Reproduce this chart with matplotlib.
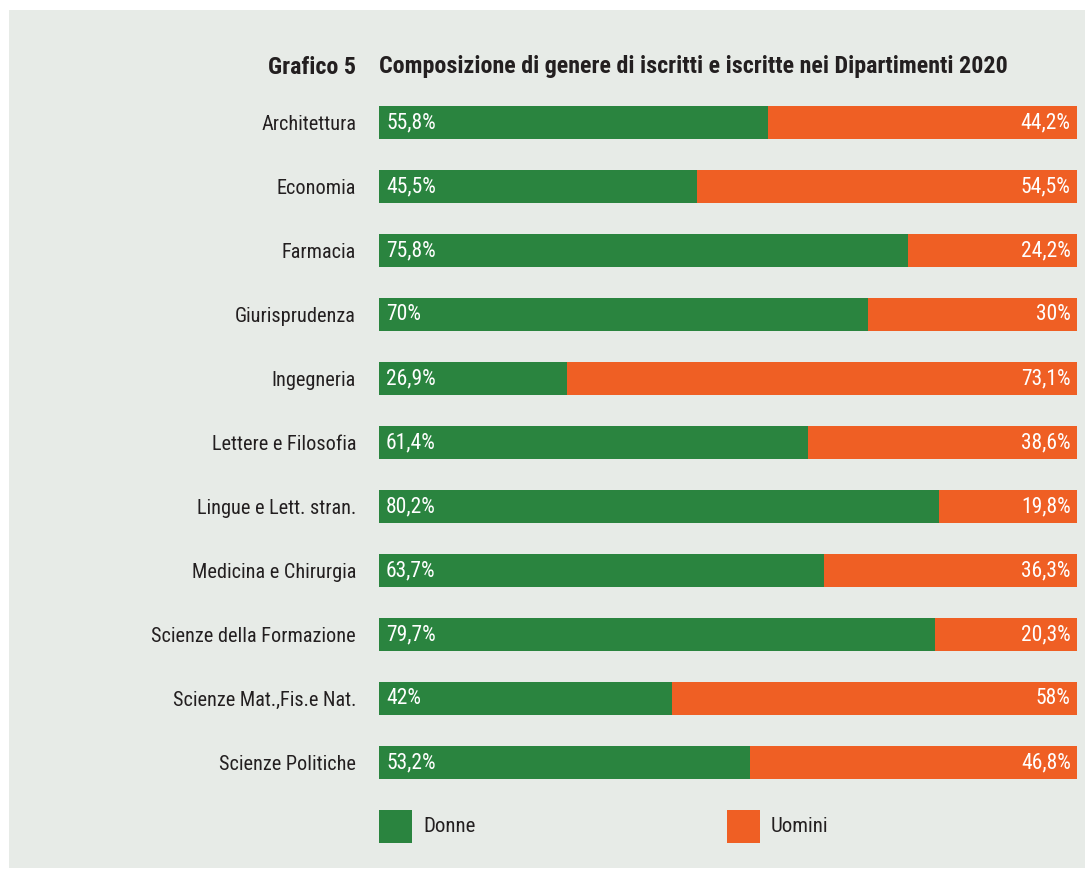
import matplotlib.pyplot as plt
from matplotlib.patches import Rectangle

# dati: quota di iscritte (Donne) e iscritti (Uomini) per dipartimento, in %
dipartimenti = ['Architettura', 'Economia', 'Farmacia', 'Giurisprudenza', 'Ingegneria',
                'Lettere e Filosofia', 'Lingue e Lett. stran.', 'Medicina e Chirurgia',
                'Scienze della Formazione', 'Scienze Mat.,Fis.e Nat.', 'Scienze Politiche']
donne = [55.8, 45.5, 75.8, 70, 26.9, 61.4, 80.2, 63.7, 79.7, 42, 53.2]
uomini = [44.2, 54.5, 24.2, 30, 73.1, 38.6, 19.8, 36.3, 20.3, 58, 46.8]

VERDE = '#2a843f'
ARANCIO = '#ef5f24'
SFONDO = '#e7ebe7'
TESTO = '#231f20'

plt.rcParams['font.family'] = ['Roboto Condensed', 'Archivo Narrow', 'DejaVu Sans']

W, H = 1085, 869
fig = plt.figure(figsize=(W / 100, H / 100), dpi=100)
fig.patch.set_facecolor('white')
# riquadro di sfondo
fig.patches.append(Rectangle((9 / W, 1 - 868 / H), (W - 9) / W, (868 - 10) / H,
                             transform=fig.transFigure, facecolor=SFONDO,
                             edgecolor='none', zorder=-10))

def fmt(v):
    s = ('%.1f' % v).rstrip('0').rstrip('.')
    return s.replace('.', ',') + '%'

ax = fig.add_axes([379 / W, 1 - 794.5 / H, (1077 - 379) / W, 704 / H])
ax.set_facecolor('none')
y = list(range(len(dipartimenti)))
ax.barh(y, donne, height=0.52, color=VERDE, linewidth=0)
ax.barh(y, uomini, left=donne, height=0.52, color=ARANCIO, linewidth=0)
for i in y:
    ax.text(1, i, fmt(donne[i]), color='white', fontsize=15.5, va='center', ha='left')
    ax.text(99.1, i, fmt(uomini[i]), color='white', fontsize=15.5, va='center', ha='right')
ax.set_xlim(0, 100)
ax.set_ylim(len(dipartimenti) - 0.5, -0.5)
ax.set_yticks(y)
ax.set_yticklabels(dipartimenti, fontsize=14.6, color=TESTO)
ax.tick_params(axis='y', length=0, pad=16.5)
ax.set_xticks([])
for s in ax.spines.values():
    s.set_visible(False)

# titolo
fig.text(356 / W, 1 - 67 / H, 'Grafico 5', ha='right', va='center',
         fontsize=17.3, fontweight='bold', color=TESTO)
fig.text(379 / W, 1 - 67 / H,
         'Composizione di genere di iscritti e iscritte nei Dipartimenti 2020',
         ha='left', va='center', fontsize=17.3, fontweight='bold', color=TESTO)

# legenda
for x0, col, lab in [(379, VERDE, 'Donne'), (727, ARANCIO, 'Uomini')]:
    fig.patches.append(Rectangle((x0 / W, 1 - 843 / H), 33 / W, 33 / H,
                                 transform=fig.transFigure, facecolor=col,
                                 edgecolor='none'))
    fig.text((x0 + 44) / W, 1 - 827 / H, lab, ha='left', va='center',
             fontsize=15, color=TESTO)

fig.savefig('out.png', dpi=100, facecolor=fig.get_facecolor())
